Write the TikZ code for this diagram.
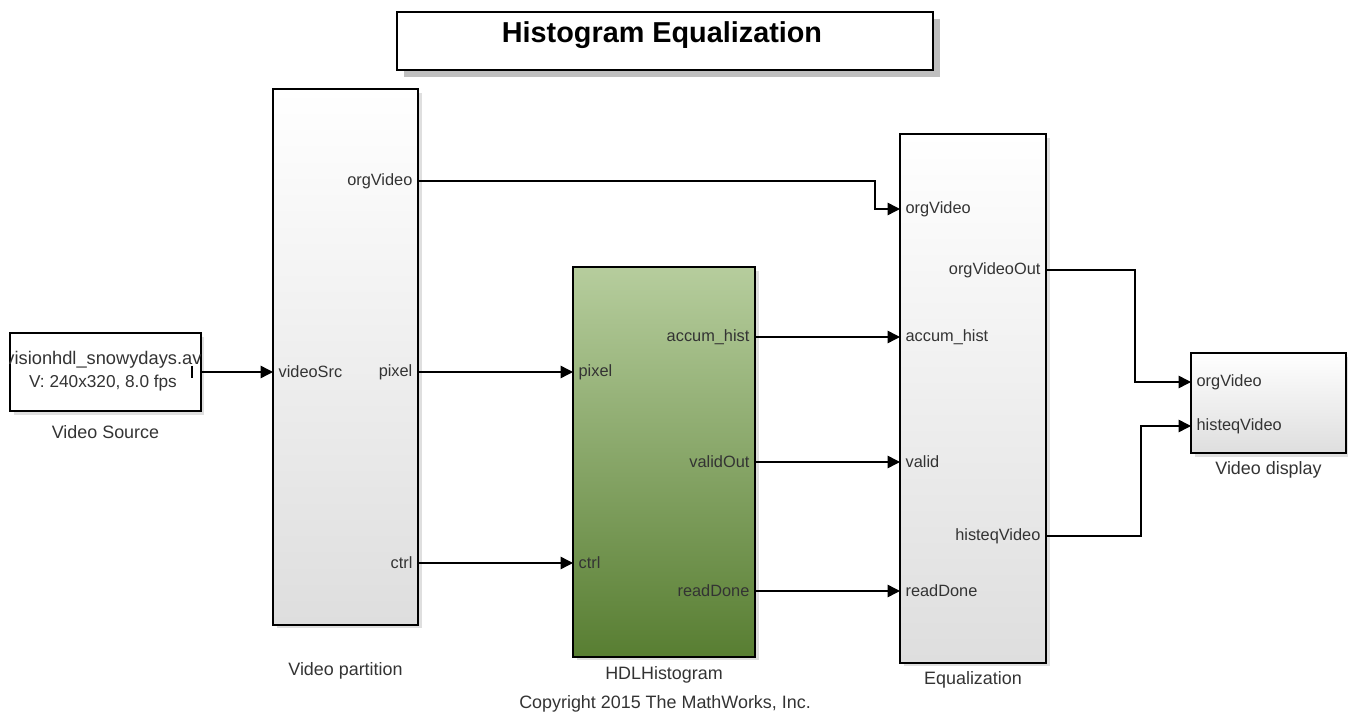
\documentclass[tikz,border=0pt]{standalone}
\usepackage{fontspec}
\setmainfont{Liberation Sans}
\usetikzlibrary{arrows.meta,shadows}

\definecolor{histtop}{HTML}{B6CD9D}
\definecolor{histbot}{HTML}{587E32}
\definecolor{blkbot}{HTML}{DEDEDE}
\definecolor{lbltext}{HTML}{333333}

\tikzset{
  blk/.style={draw, line width=0.9pt, inner sep=0pt,
    drop shadow={shadow xshift=2pt, shadow yshift=-2pt, opacity=0.25}},
  wblk/.style={blk, top color=white, bottom color=blkbot},
  gblk/.style={blk, top color=histtop, bottom color=histbot},
  port/.style={font=\fontsize{9.3}{11}\selectfont, text=lbltext, inner xsep=3pt, inner ysep=1.5pt},
  blkname/.style={font=\fontsize{10.2}{12}\selectfont, text=lbltext},
  srctext/.style={font=\fontsize{9.8}{12}\selectfont, text=lbltext, inner sep=0pt},
  wire/.style={line width=0.8pt, -{Triangle[length=7pt,width=7pt]}},
}

\begin{document}
\begin{tikzpicture}[x=0.02cm,y=-0.02cm]
  \useasboundingbox (0,0) rectangle (1348,722);

  % title
  \node[draw, line width=0.9pt, fill=white, minimum width=10.72cm, minimum height=1.16cm,
    drop shadow={shadow xshift=4pt, shadow yshift=-4pt, opacity=0.5}] (title) at (665,41) {};
  \node[font=\bfseries\fontsize{16.4}{19}\selectfont] (titletext) at (662,35) {Histogram Equalization};

  % blocks
  \node[blk, fill=white, minimum width=3.82cm, minimum height=1.56cm] (src) at (105.5,372) {};
  \begin{scope}
    \clip (src.south west) rectangle (src.north east);
    \node[srctext, font=\fontsize{10.4}{12}\selectfont] (srcfile) at (105.5,360) {visionhdl\_snowydays.avi};
  \end{scope}
  \node[srctext] (srcfmt) at (103,383) {V: 240x320, 8.0 fps};
  \draw[line width=0.6pt] (192,366) -- (192,378);
  \node[wblk, minimum width=2.9cm, minimum height=10.72cm] (part) at (345.5,357) {};
  \node[gblk, minimum width=3.64cm, minimum height=7.8cm] (hist) at (664,462) {};
  \node[wblk, minimum width=2.92cm, minimum height=10.58cm] (equ) at (973,398.5) {};
  \node[wblk, minimum width=3.1cm, minimum height=2cm] (disp) at (1268.5,403) {};

  % block names
  \node[blkname] (srcname) at (105.5,432) {Video Source};
  \node[blkname] (partname) at (345.5,671) {Video partition};
  \node[blkname] (histname) at (664,675) {HDLHistogram};
  \node[blkname] (equname) at (973,680) {Equalization};
  \node[blkname] (dispname) at (1268.5,470) {Video display};

  % ports
  \node[port, anchor=west] (part-src) at (273,372) {videoSrc};
  \node[port, anchor=east] (part-org) at (418,181) {orgVideo};
  \node[port, anchor=east] (part-pix) at (418,372) {pixel};
  \node[port, anchor=east] (part-ctrl) at (418,563) {ctrl};

  \node[port, anchor=west] (hist-pix) at (573,372) {pixel};
  \node[port, anchor=west] (hist-ctrl) at (573,563) {ctrl};
  \node[port, anchor=east] (hist-acc) at (755,337) {accum\_hist};
  \node[port, anchor=east] (hist-valid) at (755,462) {validOut};
  \node[port, anchor=east] (hist-done) at (755,591) {readDone};

  \node[port, anchor=west] (equ-org) at (900,209) {orgVideo};
  \node[port, anchor=west] (equ-acc) at (900,337) {accum\_hist};
  \node[port, anchor=west] (equ-valid) at (900,462) {valid};
  \node[port, anchor=west] (equ-done) at (900,591) {readDone};
  \node[port, anchor=east] (equ-out) at (1046,270) {orgVideoOut};
  \node[port, anchor=east] (equ-heq) at (1046,536) {histeqVideo};

  \node[port, anchor=west] (disp-org) at (1191,382) {orgVideo};
  \node[port, anchor=west] (disp-heq) at (1191,426) {histeqVideo};

  % wires
  \coordinate (bendorg) at (875,181);
  \coordinate (bendout) at (1135,270);
  \coordinate (bendheq) at (1141,536);
  \draw[wire] (src.east) -- (part-src.west);
  \draw[wire] (part-org.east) -- (bendorg) |- (equ-org.west);
  \draw[wire] (part-pix.east) -- (hist-pix.west);
  \draw[wire] (part-ctrl.east) -- (hist-ctrl.west);
  \draw[wire] (hist-acc.east) -- (equ-acc.west);
  \draw[wire] (hist-valid.east) -- (equ-valid.west);
  \draw[wire] (hist-done.east) -- (equ-done.west);
  \draw[wire] (equ-out.east) -- (bendout) |- (disp-org.west);
  \draw[wire] (equ-heq.east) -- (bendheq) |- (disp-heq.west);

  \node[blkname] (copyright) at (665,704) {Copyright 2015 The MathWorks, Inc.};
\end{tikzpicture}
\end{document}
